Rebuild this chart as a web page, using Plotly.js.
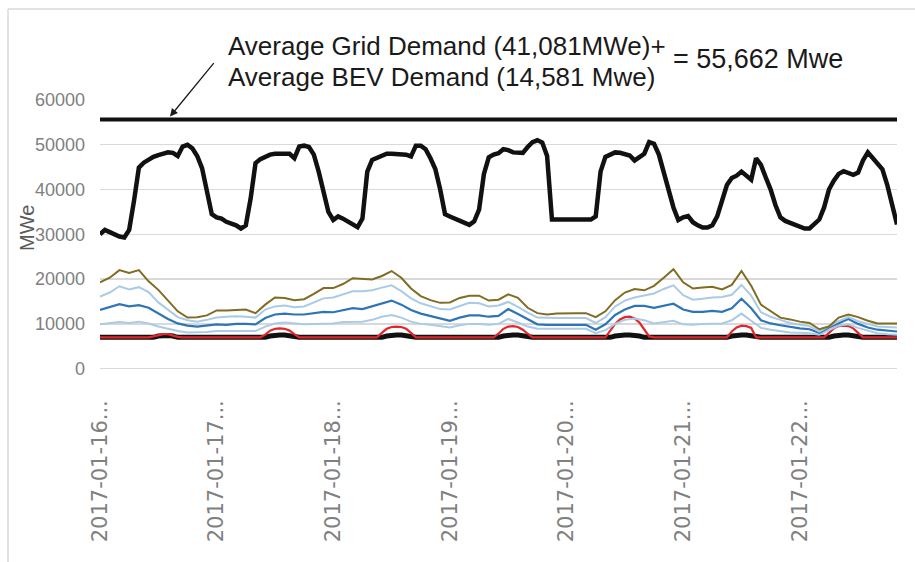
<!DOCTYPE html>
<html>
<head>
<meta charset="utf-8">
<script src="https://cdn.plot.ly/plotly-3.0.1.min.js"></script>
<style>html,body{margin:0;padding:0;background:#fff;}#chart{width:915px;height:562px;}</style>
</head>
<body>
<div id="chart"></div>
<script>
// ---- data (hourly grid demand, MWe) ----
const dayLabels = ["2017-01-16...", "2017-01-17...", "2017-01-18...", "2017-01-19...", "2017-01-20...", "2017-01-21...", "2017-01-22..."];
const dayTickHours = [0, 24, 48, 72, 96, 120, 144];
const yTicks = [0, 10000, 20000, 30000, 40000, 50000, 60000];

const gridDemand = [
  30000, 31000, 30500, 30000, 29500, 29300, 31000, 37500, 44900, 46000, 46800, 47300, 47700, 48100, 48300, 48200, 47500, 49600, 50000, 49200, 47500, 44800, 39500, 34500,
  33800, 33500, 32800, 32400, 32000, 31300, 32000, 38000, 45900, 46800, 47300, 47800, 48000, 48100, 48000, 48000, 47000, 49600, 49800, 49500, 47800, 44000, 39000, 35000,
  33200, 34000, 33500, 32800, 32200, 31600, 33500, 44000, 46600, 47000, 47500, 48000, 48000, 48000, 48000, 47800, 47400, 49800, 49800, 49000, 47000, 44600, 40000, 34500,
  34000, 33500, 33000, 32500, 32100, 32900, 35500, 43500, 47200, 47800, 48100, 49000, 48800, 48300, 48200, 48200, 49500, 50600, 51000, 50500, 47500, 33300, 33300, 33300,
  33300, 33300, 33300, 33300, 33300, 33300, 34000, 44000, 47300, 47900, 48300, 48200, 47900, 47600, 46500, 47200, 48000, 50600, 50200, 47800, 44000, 40500, 36000, 33200,
  33800, 34100, 32700, 32000, 31500, 31500, 32000, 34000, 37500, 41000, 42600, 43100, 44000, 43000, 42200, 47000, 45500, 42700, 40000, 36500, 33800, 33000, 32600, 32300,
  31900, 31300, 31300, 32300, 33300, 36000, 40000, 42000, 43500, 44100, 43600, 43300, 43800, 46500, 48300, 47000, 45500, 44500, 41000, 36500, 32200
];
const averageDemand = [55662, 55662];
const averageHours = [0, 164];

// ---- data (2-hourly BEV charging scenarios, MWe) ----
const scenarioTop = [
  19300, 20300, 22000, 21400, 22000, 19500, 17600, 15300, 12800, 11400,
  11500, 11900, 13000, 13000, 13100, 13200, 12400, 14300, 15900, 15800,
  15300, 15500, 16700, 18000, 18000, 18900, 20200, 20000, 19900, 20700,
  21800, 20300, 17900, 16200, 15300, 14700, 14800, 15800, 16300, 16300,
  15200, 15400, 16600, 15800, 13600, 12400, 12100, 12300, 12400, 12400,
  12400, 11500, 12800, 15300, 17000, 17800, 17500, 18500, 20300, 22200,
  19300, 17900, 18100, 18300, 17700, 18700, 21800, 18500, 14300, 12800,
  11400, 11000, 10500, 10200, 8800, 9400, 11400, 12100, 11500, 10700,
  10100, 10100, 10100
];
const scenarioHigh = [
  16100, 17000, 18400, 17700, 18200, 17100, 14800, 13100, 11500, 10800,
  10500, 10900, 11400, 11600, 11700, 11600, 11400, 13200, 13900, 14100,
  13700, 13900, 14800, 15700, 15900, 16600, 17300, 17300, 17500, 18100,
  18600, 17300, 15700, 14600, 13900, 13300, 13200, 14000, 14700, 14600,
  13900, 14100, 14900, 13800, 12500, 11400, 11300, 11300, 11300, 11300,
  11300, 10200, 11500, 13900, 15200, 15900, 16300, 16800, 17800, 18600,
  16400, 15400, 15600, 15900, 16000, 16500, 18700, 16300, 12600, 11600,
  10900, 10200, 9800, 9500, 8300, 9500, 10600, 11500, 10600, 10000,
  9400, 9300, 9200
];
const scenarioMid = [
  13100, 13800, 14400, 13900, 14200, 13600, 12400, 11100, 10100, 9600,
  9400, 9600, 9900, 9800, 10000, 10000, 9900, 11300, 12100, 12300,
  12100, 12100, 12400, 12700, 12600, 13100, 13500, 13300, 13900, 14600,
  15200, 14300, 13100, 12300, 11800, 11300, 10700, 11400, 11900, 11900,
  11600, 11800, 13300, 12200, 11000, 9900, 9800, 9800, 9800, 9800,
  9800, 8700, 9900, 12000, 13200, 14000, 14000, 13600, 14100, 14500,
  13200, 12700, 12700, 12900, 12700, 13500, 15600, 13500, 10800, 10100,
  9700, 9300, 9000, 8800, 8000, 9200, 10200, 11100, 10000, 9200,
  8700, 8500, 8300
];
const scenarioLow = [
  9900, 10100, 10400, 10200, 10500, 10100, 9400, 8900, 8400, 8100,
  8100, 8200, 8400, 8400, 8500, 8500, 8400, 9400, 10100, 10300,
  10100, 9900, 10000, 10100, 10100, 10400, 10500, 10500, 10900, 11600,
  12000, 11400, 10500, 10000, 9800, 9500, 9200, 9700, 10000, 10000,
  9800, 10000, 11100, 10300, 9400, 8900, 8900, 8900, 8900, 8900,
  8900, 7900, 8600, 10000, 10900, 11200, 10800, 10100, 10400, 10700,
  9900, 9800, 10000, 10100, 10100, 10800, 12300, 10700, 9100, 8700,
  8400, 8100, 8000, 7900, 7600, 8600, 9600, 9900, 9100, 8500,
  7900, 7700, 7600
];

// ---- data (hourly, MWe) ----
const scenarioRed = [
  7000, 7000, 7000, 7000, 7000, 7000, 7000, 7000, 7000, 7000,
  7000, 7200, 7500, 7700, 7700, 7400, 7100,
  7000, 7000, 7000, 7000, 7000, 7000, 7000, 7000, 7000, 7000, 7000, 7000, 7000, 7000, 7000, 7000, 7000,
  7600, 8500, 8900, 9000, 8900, 8500, 7700,
  7000, 7000, 7000, 7000, 7000, 7000, 7000, 7000, 7000, 7000, 7000, 7000, 7000, 7000, 7000, 7000, 7000,
  8000, 8900, 9300, 9400, 9300, 8900, 8000,
  7000, 7000, 7000, 7000, 7000, 7000, 7000, 7000, 7000, 7000, 7000, 7000, 7000, 7000, 7000, 7000, 7000,
  7800, 8900, 9400, 9500, 9300, 8700, 7800,
  7000, 7000, 7000, 7000, 7000, 7000, 7000, 7000, 7000, 7000, 7000, 7000, 7000, 7000, 7000, 7000,
  8500, 10000, 11000, 11500, 11600, 11200, 10300, 8800, 7200,
  7000, 7000, 7000, 7000, 7000, 7000, 7000, 7000, 7000, 7000, 7000, 7000, 7000, 7000, 7000, 7000,
  8300, 9200, 9600, 9500, 9100,
  7000, 7000, 7000, 7000, 7000, 7000, 7000, 7000, 7000, 7000, 7000, 7000, 7000, 7000, 7000,
  8000, 9000, 9500, 9600, 9500, 9000, 8000,
  7000, 7000, 7000, 7000, 7000, 7000, 7000, 7000
];
const scenarioBase = [
  7000, 7000, 7000, 7000, 7000, 7000, 7000, 7000, 7000, 7000, 7000, 7000,
  7300, 7400, 7400, 7300,
  7000, 7000, 7000, 7000, 7000, 7000, 7000, 7000, 7000, 7000, 7000, 7000, 7000, 7000, 7000, 7000, 7000, 7000, 7000,
  7300, 7500, 7500, 7500, 7300,
  7000, 7000, 7000, 7000, 7000, 7000, 7000, 7000, 7000, 7000, 7000, 7000, 7000, 7000, 7000, 7000, 7000, 7000, 7000,
  7300, 7500, 7500, 7500, 7300,
  7000, 7000, 7000, 7000, 7000, 7000, 7000, 7000, 7000, 7000, 7000, 7000, 7000, 7000, 7000, 7000, 7000, 7000, 7000,
  7300, 7500, 7500, 7500, 7300,
  7000, 7000, 7000, 7000, 7000, 7000, 7000, 7000, 7000, 7000, 7000, 7000, 7000, 7000, 7000, 7000, 7000, 7000,
  7300, 7500, 7500, 7500, 7500, 7300,
  7000, 7000, 7000, 7000, 7000, 7000, 7000, 7000, 7000, 7000, 7000, 7000, 7000, 7000, 7000, 7000, 7000, 7000,
  7300, 7500, 7500, 7500, 7300,
  7000, 7000, 7000, 7000, 7000, 7000, 7000, 7000, 7000, 7000, 7000, 7000, 7000, 7000, 7000, 7000,
  7300, 7500, 7500, 7500, 7300,
  7000, 7000, 7000, 7000, 7000, 7000, 7000, 7000, 7000
];

const hours = gridDemand.map((_, i) => i);
const hoursBase = scenarioBase.map((_, i) => i);
const hoursRed = scenarioRed.map((_, i) => i);
const hours2 = scenarioTop.map((_, i) => 2 * i);

const line = (x, y, color, width, name) => ({
  type: 'scatter', mode: 'lines', x: x, y: y, name: name,
  line: {color: color, width: width}, hoverinfo: 'x+y'
});

const traces = [
  line(hoursBase, scenarioBase, '#111111', 5, 'Base'),
  line(hoursRed, scenarioRed, '#e3262b', 2.2, 'Scenario A'),
  line(hours2, scenarioLow, '#a9cbe6', 2, 'Scenario B'),
  line(hours2, scenarioMid, '#2e75b6', 2.2, 'Scenario C'),
  line(hours2, scenarioHigh, '#a9cbe6', 2, 'Scenario D'),
  line(hours2, scenarioTop, '#806c22', 2, 'Scenario E'),
  line(hours, gridDemand, '#111111', 4.5, 'Grid Demand'),
  line(averageHours, averageDemand, '#111111', 4, 'Average Demand')
];

// paper-coordinate helpers (plot area: x 100..897 px, y 100..370 px)
const L = 100, R = 18, T = 100, B = 192, W = 915, H = 562;
const pw = W - L - R, ph = H - T - B;
const px = v => (v - L) / pw;
const py = v => (H - B - v) / ph;

const layout = {
  width: W, height: H,
  margin: {l: L, r: R, t: T, b: B, pad: 0},
  paper_bgcolor: '#ffffff', plot_bgcolor: '#ffffff',
  showlegend: false,
  font: {family: 'Liberation Sans, Arial, sans-serif', color: '#7f7f7f'},
  xaxis: {
    range: [0, 164], showgrid: false, zeroline: false, showline: false,
    tickmode: 'array', tickvals: dayTickHours, ticktext: dayLabels,
    tickangle: -90, ticks: '', ticklabelstandoff: 25,
    tickfont: {family: 'DejaVu Sans, sans-serif', size: 21, color: '#808080'}
  },
  yaxis: {
    range: [-300, 60000], showgrid: true, gridcolor: '#d9d9d9', gridwidth: 1.3,
    zeroline: false, showline: false,
    tickmode: 'array', tickvals: yTicks, ticktext: yTicks.map(String),
    ticks: '', ticklabelstandoff: 14,
    tickfont: {family: 'Liberation Sans, Arial, sans-serif', size: 18, color: '#7f7f7f'}
  },
  shapes: [
    {type: 'line', xref: 'paper', yref: 'paper', x0: px(8), x1: px(8), y0: py(9), y1: py(562), line: {color: '#d9d9d9', width: 1.5}},
    {type: 'line', xref: 'paper', yref: 'paper', x0: px(8), x1: px(915), y0: py(9), y1: py(9), line: {color: '#d9d9d9', width: 1.5}}
  ],
  annotations: [
    {xref: 'paper', yref: 'paper', x: px(27), y: py(228), text: 'MWe', textangle: -90, showarrow: false,
     xanchor: 'center', yanchor: 'middle', font: {family: 'Liberation Sans, Arial, sans-serif', size: 20, color: '#595959'}},
    {xref: 'paper', yref: 'paper', x: px(226), y: py(46), text: 'Average Grid Demand (41,081MWe)+', showarrow: false,
     xanchor: 'left', yanchor: 'middle', font: {family: 'Liberation Sans, Arial, sans-serif', size: 26, color: '#1a1a1a'}},
    {xref: 'paper', yref: 'paper', x: px(226), y: py(77), text: 'Average BEV Demand (14,581 Mwe)', showarrow: false,
     xanchor: 'left', yanchor: 'middle', font: {family: 'Liberation Sans, Arial, sans-serif', size: 26, color: '#1a1a1a'}},
    {xref: 'paper', yref: 'paper', x: px(671), y: py(59), text: '= 55,662 Mwe', showarrow: false,
     xanchor: 'left', yanchor: 'middle', font: {family: 'Liberation Sans, Arial, sans-serif', size: 27, color: '#1a1a1a'}},
    {xref: 'x', yref: 'y', x: 14.4, y: 56300, text: '', showarrow: true, arrowhead: 2, arrowsize: 1.2,
     arrowwidth: 1.3, arrowcolor: '#1a1a1a', ax: 45, ay: -55, standoff: 0}
  ]
};

Plotly.newPlot('chart', traces, layout, {displayModeBar: false, staticPlot: true});
</script>
</body>
</html>
